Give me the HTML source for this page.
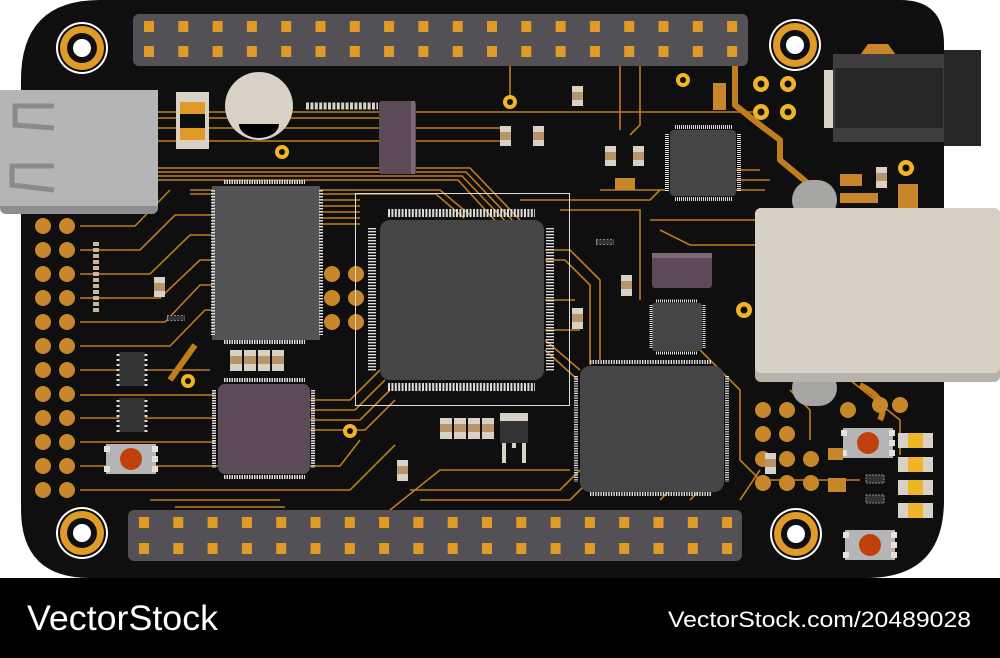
<!DOCTYPE html>
<html><head><meta charset="utf-8"><style>
html,body{margin:0;padding:0;background:#fff;width:1000px;height:658px;overflow:hidden}
svg{display:block}
</style></head><body>
<svg width="1000" height="658" viewBox="0 0 1000 658" xmlns="http://www.w3.org/2000/svg">
<defs>
<g id="hrow" fill="#e09a28">
<rect x="0" y="0" width="10" height="11"/><rect x="34.3" y="0" width="10" height="11"/><rect x="68.6" y="0" width="10" height="11"/><rect x="102.9" y="0" width="10" height="11"/><rect x="137.2" y="0" width="10" height="11"/><rect x="171.5" y="0" width="10" height="11"/><rect x="205.8" y="0" width="10" height="11"/><rect x="240.1" y="0" width="10" height="11"/><rect x="274.4" y="0" width="10" height="11"/><rect x="308.7" y="0" width="10" height="11"/><rect x="343" y="0" width="10" height="11"/><rect x="377.3" y="0" width="10" height="11"/><rect x="411.6" y="0" width="10" height="11"/><rect x="445.9" y="0" width="10" height="11"/><rect x="480.2" y="0" width="10" height="11"/><rect x="514.5" y="0" width="10" height="11"/><rect x="548.8" y="0" width="10" height="11"/><rect x="583.1" y="0" width="10" height="11"/>
</g>
<g id="hole">
<circle cx="0" cy="0" r="26" fill="#fff"/><circle cx="0" cy="0" r="24" fill="#0f0f0f"/><circle cx="0" cy="0" r="22" fill="#e09a28"/><circle cx="0" cy="0" r="15" fill="#0f0f0f"/><circle cx="0" cy="0" r="9" fill="#fff"/>
</g>
<g id="btn"><rect x="0" y="0" width="50" height="30" fill="#b5b5b7"/><rect x="-2" y="2" width="6" height="6" fill="#e8e2d6"/><rect x="-2" y="22" width="6" height="6" fill="#e8e2d6"/><rect x="46" y="2" width="6" height="6" fill="#e8e2d6"/><rect x="46" y="12" width="6" height="6" fill="#e8e2d6"/><rect x="46" y="22" width="6" height="6" fill="#e8e2d6"/><circle cx="25" cy="15" r="11" fill="#c0400c"/></g>
</defs>
<rect x="0" y="0" width="1000" height="658" fill="#fff"/>
<!-- board -->
<path d="M100 0 H900 Q944 0 944 44 V500 Q944 578 866 578 H90 Q21 578 21 509 V80 Q21 0 100 0 Z" fill="#0f0f0f"/>
<!-- traces -->
<g stroke="#c07d1e" stroke-width="1.6" fill="none">
<path d="M158 112 H760"/><path d="M158 118 H380"/><path d="M158 128 H500"/><path d="M158 141 H500"/>
<path d="M158 168 H470 L520 220"/><path d="M158 172 H466 L514 222"/><path d="M158 176 H462 L508 224"/><path d="M158 180 H458 L500 226"/>
<path d="M190 190 H440 L470 215"/><path d="M190 194 H436 L464 218"/>
<path d="M80 226 H135 L170 190"/><path d="M80 250 H140 L175 215 H212"/><path d="M80 274 H150 L190 235 H212"/><path d="M80 298 H160 L200 260 H212"/>
<path d="M80 322 H165 L200 285 H212"/><path d="M80 346 H170 L205 310 H212"/><path d="M80 370 H210"/><path d="M80 395 H215"/>
<path d="M80 418 H215"/><path d="M80 442 H215"/><path d="M80 466 H340 L360 440"/><path d="M80 490 H350 L395 445"/>
<path d="M150 500 H280"/><path d="M175 507 H285"/>
<path d="M310 400 H350 L380 370"/><path d="M310 410 H355 L385 380"/><path d="M310 420 H360 L390 390"/><path d="M310 430 H365 L395 400"/>
<path d="M320 200 H360"/><path d="M320 206 H360"/><path d="M320 212 H360"/><path d="M320 218 H360"/><path d="M320 224 H360"/>
<path d="M545 250 H570 L600 280 V360"/><path d="M545 260 H565 L590 285 V365"/><path d="M545 300 H575"/><path d="M545 330 H580"/>
<path d="M545 340 L580 370"/><path d="M545 350 L578 380"/>
<path d="M410 490 H560 L580 470"/><path d="M420 500 H570 L585 485"/><path d="M390 510 L440 470 H570"/>
<path d="M560 210 H640 V300"/><path d="M520 200 H650 L660 190"/><path d="M600 190 H665"/>
<path d="M725 170 H760"/><path d="M725 180 H770"/><path d="M725 190 H765"/>
<path d="M650 220 H755"/><path d="M660 230 L690 245 H755"/><path d="M700 350 L740 390 V460 L760 480 H860"/>
<path d="M740 500 L760 470"/><path d="M690 500 L720 470"/><path d="M660 500 L690 470"/>
<path d="M620 60 V130"/><path d="M640 60 V125 L630 135"/><path d="M510 60 V100"/>
<path d="M790 390 L810 410 V440"/><path d="M850 380 L900 420 V455"/>
</g>
<g stroke="#c07d1e" stroke-width="6" fill="none" stroke-linejoin="round">
<path d="M735 65 V105 L760 125 L780 140 V160 L810 185"/>
<path d="M195 345 L170 380"/>
<path d="M860 385 Q890 400 880 420"/>
</g>
<!-- headers -->
<rect x="133" y="14" width="615" height="52" rx="6" fill="#545156"/>
<rect x="128" y="510" width="614" height="51" rx="6" fill="#545156"/>
<use href="#hrow" transform="translate(144,21)"/>
<use href="#hrow" transform="translate(144,46)"/>
<use href="#hrow" transform="translate(139,517)"/>
<use href="#hrow" transform="translate(139,543)"/>
<use href="#hole" transform="translate(82,48)"/>
<use href="#hole" transform="translate(795,45)"/>
<use href="#hole" transform="translate(82,533)"/>
<use href="#hole" transform="translate(796,534)"/>
<!-- USB left -->
<rect x="0" y="90" width="158" height="124" rx="6" fill="#8e8e90"/>
<rect x="0" y="90" width="158" height="116" fill="#b5b5b7"/>
<g stroke="#8a8a8c" stroke-width="5" fill="none"><path d="M54 106 H15 V125 L54 128"/><path d="M54 166 H12 V185 L54 190"/></g>
<!-- left pads -->
<g fill="#c8862a">
<circle cx="43" cy="226" r="8"/><circle cx="67" cy="226" r="8"/><circle cx="43" cy="250" r="8"/><circle cx="67" cy="250" r="8"/>
<circle cx="43" cy="274" r="8"/><circle cx="67" cy="274" r="8"/><circle cx="43" cy="298" r="8"/><circle cx="67" cy="298" r="8"/>
<circle cx="43" cy="322" r="8"/><circle cx="67" cy="322" r="8"/><circle cx="43" cy="346" r="8"/><circle cx="67" cy="346" r="8"/>
<circle cx="43" cy="370" r="8"/><circle cx="67" cy="370" r="8"/><circle cx="43" cy="394" r="8"/><circle cx="67" cy="394" r="8"/>
<circle cx="43" cy="418" r="8"/><circle cx="67" cy="418" r="8"/><circle cx="43" cy="442" r="8"/><circle cx="67" cy="442" r="8"/>
<circle cx="43" cy="466" r="8"/><circle cx="67" cy="466" r="8"/><circle cx="43" cy="490" r="8"/><circle cx="67" cy="490" r="8"/>
</g>
<line x1="96" y1="242" x2="96" y2="312" stroke="#c9b49a" stroke-width="6" stroke-dasharray="4 2"/>
<!-- top-left components -->
<rect x="176" y="92" width="33" height="57" fill="#d8d2c6"/><rect x="180" y="102" width="25" height="12" fill="#e09a28"/><rect x="180" y="128" width="25" height="12" fill="#e09a28"/><rect x="180" y="114" width="25" height="14" fill="#0f0f0f"/>
<circle cx="259" cy="106" r="34" fill="#d8d2c6"/><path d="M239 124 H279 A20 14 0 0 1 239 124 Z" fill="#000"/>
<circle cx="282" cy="152" r="7" fill="#f0b428"/><circle cx="282" cy="152" r="3" fill="#0f0f0f"/>
<line x1="306" y1="106" x2="378" y2="106" stroke="#d8d2c6" stroke-width="7" stroke-dasharray="3 1.4"/>
<rect x="379" y="101" width="37" height="73" rx="3" fill="#5c4a58"/><rect x="411" y="101" width="4" height="73" fill="#7a6a78"/>
<!-- left big chip -->
<rect x="212" y="186" width="108" height="154" fill="#545456"/>
<line x1="224" y1="182" x2="305" y2="182" stroke="#ddd" stroke-width="4" stroke-dasharray="1.5 1"/>
<line x1="213" y1="190" x2="213" y2="335" stroke="#ddd" stroke-width="4" stroke-dasharray="1.5 1.5"/>
<line x1="321" y1="190" x2="321" y2="335" stroke="#ddd" stroke-width="4" stroke-dasharray="1.5 1.5"/>
<line x1="224" y1="342" x2="305" y2="342" stroke="#ddd" stroke-width="4" stroke-dasharray="1.5 1"/>
<g fill="#c8862a"><circle cx="332" cy="274" r="8"/><circle cx="356" cy="274" r="8"/><circle cx="332" cy="298" r="8"/><circle cx="356" cy="298" r="8"/><circle cx="332" cy="322" r="8"/><circle cx="356" cy="322" r="8"/></g>
<!-- small left parts -->
<rect x="154" y="277" width="11" height="20" fill="#d8d2c6"/><rect x="154" y="283" width="11" height="8" fill="#b8946a"/>
<line x1="167" y1="318" x2="185" y2="318" stroke="#888" stroke-width="6" stroke-dasharray="2 1.5"/><rect x="168" y="316" width="16" height="4" fill="#333"/>
<rect x="119" y="352" width="26" height="34" fill="#333"/><rect x="119" y="398" width="26" height="34" fill="#333"/>
<g stroke="#ddd" stroke-width="3" stroke-dasharray="2 3"><line x1="118" y1="354" x2="118" y2="386"/><line x1="146" y1="354" x2="146" y2="386"/><line x1="118" y1="400" x2="118" y2="432"/><line x1="146" y1="400" x2="146" y2="432"/></g>
<use href="#btn" transform="translate(106,444)"/>
<use href="#btn" transform="translate(843,428)"/>
<use href="#btn" transform="translate(845,530)"/>
<circle cx="188" cy="381" r="7" fill="#f0b428"/><circle cx="188" cy="381" r="3" fill="#0f0f0f"/>
<circle cx="350" cy="431" r="7" fill="#f0b428"/><circle cx="350" cy="431" r="3" fill="#0f0f0f"/>
<!-- resistor row -->
<g fill="#d8d2c6"><rect x="230" y="350" width="12" height="21"/><rect x="244" y="350" width="12" height="21"/><rect x="258" y="350" width="12" height="21"/><rect x="272" y="350" width="12" height="21"/>
<rect x="440" y="418" width="12" height="21"/><rect x="454" y="418" width="12" height="21"/><rect x="468" y="418" width="12" height="21"/><rect x="482" y="418" width="12" height="21"/></g>
<g fill="#b8946a"><rect x="230" y="356" width="12" height="8"/><rect x="244" y="356" width="12" height="8"/><rect x="258" y="356" width="12" height="8"/><rect x="272" y="356" width="12" height="8"/>
<rect x="440" y="424" width="12" height="8"/><rect x="454" y="424" width="12" height="8"/><rect x="468" y="424" width="12" height="8"/><rect x="482" y="424" width="12" height="8"/></g>
<!-- lower-left purple chip -->
<rect x="218" y="384" width="92" height="90" rx="7" fill="#5c4a58"/>
<line x1="224" y1="380" x2="305" y2="380" stroke="#ddd" stroke-width="4" stroke-dasharray="1.5 1"/>
<line x1="224" y1="477" x2="305" y2="477" stroke="#ddd" stroke-width="4" stroke-dasharray="1.5 1"/>
<line x1="214" y1="390" x2="214" y2="468" stroke="#ddd" stroke-width="4" stroke-dasharray="1.5 1"/>
<line x1="313" y1="390" x2="313" y2="468" stroke="#ddd" stroke-width="4" stroke-dasharray="1.5 1"/>
<!-- center QFP -->
<rect x="355.5" y="193.5" width="214" height="212" fill="none" stroke="#ddd" stroke-width="1"/>
<rect x="380" y="220" width="164" height="160" rx="10" fill="#454547"/>
<line x1="388" y1="213" x2="535" y2="213" stroke="#ddd" stroke-width="8" stroke-dasharray="2 1.4"/>
<line x1="388" y1="387" x2="535" y2="387" stroke="#ddd" stroke-width="8" stroke-dasharray="2 1.4"/>
<line x1="372" y1="228" x2="372" y2="372" stroke="#ddd" stroke-width="8" stroke-dasharray="1.4 1.6"/>
<line x1="550" y1="228" x2="550" y2="372" stroke="#ddd" stroke-width="8" stroke-dasharray="1.4 1.6"/>
<rect x="500" y="413" width="28" height="8" fill="#d8d2c6"/><rect x="500" y="421" width="28" height="22" fill="#333"/>
<rect x="502" y="443" width="4" height="20" fill="#d8d2c6"/><rect x="522" y="443" width="4" height="20" fill="#d8d2c6"/><rect x="512" y="443" width="4" height="5" fill="#d8d2c6"/>
<rect x="397" y="460" width="11" height="21" fill="#d8d2c6"/><rect x="397" y="466" width="11" height="8" fill="#b8946a"/>
<!-- top middle small parts -->
<circle cx="510" cy="102" r="7" fill="#f0b428"/><circle cx="510" cy="102" r="3" fill="#0f0f0f"/>
<rect x="572" y="86" width="11" height="20" fill="#d8d2c6"/><rect x="572" y="92" width="11" height="8" fill="#b8946a"/>
<rect x="500" y="126" width="11" height="20" fill="#d8d2c6"/><rect x="500" y="132" width="11" height="8" fill="#b8946a"/>
<rect x="533" y="126" width="11" height="20" fill="#d8d2c6"/><rect x="533" y="132" width="11" height="8" fill="#b8946a"/>
<rect x="605" y="146" width="11" height="20" fill="#d8d2c6"/><rect x="605" y="152" width="11" height="8" fill="#b8946a"/>
<rect x="633" y="146" width="11" height="20" fill="#d8d2c6"/><rect x="633" y="152" width="11" height="8" fill="#b8946a"/>
<rect x="615" y="178" width="20" height="12" fill="#c8862a"/>
<line x1="596" y1="242" x2="614" y2="242" stroke="#888" stroke-width="6" stroke-dasharray="2 1.5"/><rect x="597" y="240" width="16" height="4" fill="#333"/>
<!-- top-right small chip -->
<rect x="670" y="130" width="66" height="66" rx="4" fill="#454547"/>
<line x1="675" y1="127" x2="732" y2="127" stroke="#ddd" stroke-width="4" stroke-dasharray="1 1"/>
<line x1="675" y1="199" x2="732" y2="199" stroke="#ddd" stroke-width="4" stroke-dasharray="1 1"/>
<line x1="667" y1="134" x2="667" y2="192" stroke="#ddd" stroke-width="4" stroke-dasharray="1 1"/>
<line x1="739" y1="134" x2="739" y2="192" stroke="#ddd" stroke-width="4" stroke-dasharray="1 1"/>
<circle cx="683" cy="80" r="7" fill="#f0b428"/><circle cx="683" cy="80" r="3" fill="#0f0f0f"/>
<rect x="713" y="83" width="13" height="27" fill="#c8862a"/>
<g fill="#f0b428"><circle cx="761" cy="84" r="8"/><circle cx="788" cy="84" r="8"/><circle cx="761" cy="112" r="8"/><circle cx="788" cy="112" r="8"/></g>
<g fill="#0f0f0f"><circle cx="761" cy="84" r="3.5"/><circle cx="788" cy="84" r="3.5"/><circle cx="761" cy="112" r="3.5"/><circle cx="788" cy="112" r="3.5"/></g>
<!-- DC jack -->
<path d="M860 55 L868 44 H888 L896 55 Z" fill="#c8862a"/>
<rect x="824" y="70" width="10" height="58" fill="#d8d2c6"/>
<rect x="833" y="54" width="112" height="88" fill="#3e3e40"/>
<rect x="835" y="68" width="108" height="60" fill="#262628"/>
<rect x="944" y="50" width="37" height="96" fill="#262628"/>
<circle cx="906" cy="168" r="8" fill="#f0b428"/><circle cx="906" cy="168" r="3.5" fill="#0f0f0f"/>
<rect x="876" y="167" width="11" height="21" fill="#d8d2c6"/><rect x="876" y="173" width="11" height="8" fill="#b8946a"/>
<rect x="840" y="174" width="22" height="12" fill="#c8862a"/>
<rect x="898" y="184" width="20" height="26" fill="#c8862a"/>
<rect x="840" y="193" width="38" height="10" fill="#c8862a"/>
<rect x="792" y="180" width="45" height="40" rx="20" fill="#a8a6a2"/>
<rect x="792" y="370" width="45" height="36" rx="18" fill="#a8a6a2"/>
<!-- purple cap right -->
<rect x="652" y="253" width="60" height="35" rx="3" fill="#5c4a58"/><rect x="652" y="253" width="60" height="5" fill="#7a6a78"/>
<rect x="652" y="303" width="50" height="48" rx="3" fill="#454547"/>
<line x1="656" y1="301" x2="698" y2="301" stroke="#ddd" stroke-width="3" stroke-dasharray="1 1"/>
<line x1="656" y1="353" x2="698" y2="353" stroke="#ddd" stroke-width="3" stroke-dasharray="1 1"/>
<line x1="651" y1="305" x2="651" y2="348" stroke="#ddd" stroke-width="3" stroke-dasharray="1 1"/>
<line x1="704" y1="305" x2="704" y2="348" stroke="#ddd" stroke-width="3" stroke-dasharray="1 1"/>
<circle cx="744" cy="310" r="8" fill="#f0b428"/><circle cx="744" cy="310" r="3.5" fill="#0f0f0f"/>
<rect x="621" y="275" width="11" height="21" fill="#d8d2c6"/><rect x="621" y="281" width="11" height="8" fill="#b8946a"/>
<rect x="572" y="308" width="11" height="21" fill="#d8d2c6"/><rect x="572" y="314" width="11" height="8" fill="#b8946a"/>
<!-- ethernet -->
<rect x="755" y="208" width="245" height="174" rx="6" fill="#b8b3aa"/>
<rect x="755" y="208" width="245" height="165" rx="6" fill="#d6d0c6"/>
<!-- bottom center chip -->
<rect x="580" y="366" width="144" height="126" rx="10" fill="#454547"/>
<line x1="590" y1="362" x2="712" y2="362" stroke="#ddd" stroke-width="4" stroke-dasharray="1.4 1.2"/>
<line x1="590" y1="494" x2="712" y2="494" stroke="#ddd" stroke-width="4" stroke-dasharray="1.4 1.2"/>
<line x1="576" y1="376" x2="576" y2="482" stroke="#ddd" stroke-width="4" stroke-dasharray="1.2 1.2"/>
<line x1="727" y1="376" x2="727" y2="482" stroke="#ddd" stroke-width="4" stroke-dasharray="1.2 1.2"/>
<!-- bottom right pads -->
<g fill="#c8862a"><circle cx="763" cy="410" r="8"/><circle cx="787" cy="410" r="8"/><circle cx="763" cy="434" r="8"/><circle cx="787" cy="434" r="8"/>
<circle cx="763" cy="459" r="8"/><circle cx="787" cy="459" r="8"/><circle cx="811" cy="459" r="8"/><circle cx="763" cy="483" r="8"/><circle cx="787" cy="483" r="8"/><circle cx="811" cy="483" r="8"/>
<circle cx="848" cy="410" r="8"/><circle cx="880" cy="405" r="8"/><circle cx="900" cy="405" r="8"/><rect x="828" y="478" width="18" height="14"/><rect x="828" y="448" width="15" height="12"/></g>
<rect x="765" y="453" width="11" height="21" fill="#d8d2c6"/><rect x="765" y="459" width="11" height="8" fill="#b8946a"/>
<g fill="#d8d2c6"><rect x="898" y="433" width="35" height="15"/><rect x="898" y="457" width="35" height="15"/><rect x="898" y="480" width="35" height="15"/><rect x="898" y="503" width="35" height="15"/></g>
<g fill="#f0b428"><rect x="908" y="433" width="15" height="15"/><rect x="908" y="457" width="15" height="15"/><rect x="908" y="480" width="15" height="15"/><rect x="908" y="503" width="15" height="15"/></g>
<rect x="866" y="475" width="18" height="8" fill="#333" stroke="#888" stroke-dasharray="2 1"/>
<rect x="866" y="495" width="18" height="8" fill="#333" stroke="#888" stroke-dasharray="2 1"/>
<!-- bottom band -->
<rect x="0" y="578" width="1000" height="80" fill="#000"/>
<text x="27" y="630" font-family="Liberation Sans, sans-serif" font-size="35" fill="#fff" textLength="191" lengthAdjust="spacingAndGlyphs">VectorStock</text>
<text x="668" y="627" font-family="Liberation Sans, sans-serif" font-size="22" fill="#fff" textLength="303" lengthAdjust="spacingAndGlyphs">VectorStock.com/20489028</text>
</svg>
</body></html>
